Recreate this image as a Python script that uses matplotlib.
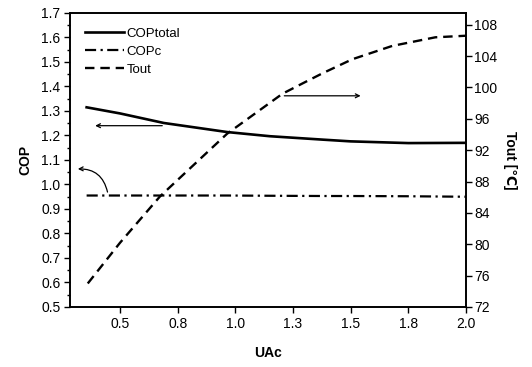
import matplotlib.pyplot as plt
from matplotlib.ticker import MultipleLocator

# datos
uac = [0.355, 0.5, 0.69, 0.965, 1.15, 1.38, 1.5, 1.75, 2.0]
cop_total = [1.315, 1.29, 1.251, 1.214, 1.197, 1.183, 1.176, 1.169, 1.17]
cop_c = [0.955, 0.955, 0.955, 0.955, 0.954, 0.953, 0.953, 0.952, 0.95]

uac_t = [0.36, 0.5, 0.673, 0.964, 1.204, 1.29, 1.377, 1.507, 1.68, 1.867, 2.0]
tout = [75.0, 80.2, 86.1, 94.1, 99.2, 100.5, 101.8, 103.6, 105.3, 106.4, 106.6]

xticks = [0.5, 0.75, 1.0, 1.25, 1.5, 1.75, 2.0]
xtick_labels = ["0.5", "0.8", "1.0", "1.3", "1.5", "1.8", "2.0"]

plt.rcParams['font.family'] = ['Liberation Sans', 'DejaVu Sans']
plt.rcParams['font.size'] = 10

fig = plt.figure(figsize=(5.32, 3.67), dpi=100)
ax = fig.add_axes([0.1316, 0.1635, 0.876 - 0.1316, 0.9646 - 0.1635])
ax2 = ax.twinx()

l1, = ax.plot(uac, cop_total, color='black', lw=1.9, label='COPtotal')
l2, = ax.plot(uac, cop_c, color='black', lw=1.6, dashes=(5, 2, 1, 2), label='COPc')
l3, = ax2.plot(uac_t, tout, color='black', lw=1.7, dashes=(4, 2.5), label='Tout')

ax.set_xlim(0.283, 2.0)
ax.set_ylim(0.5, 1.7)
ax2.set_ylim(72, 109.5)

ax.set_xticks(xticks)
ax.set_xticklabels(xtick_labels)
ax.yaxis.set_major_locator(MultipleLocator(0.1))
ax.yaxis.set_minor_locator(MultipleLocator(0.05))
ax.yaxis.set_major_formatter(plt.FormatStrFormatter('%.1f'))
ax2.yaxis.set_major_locator(MultipleLocator(4))

ax.tick_params(axis='both', direction='out', length=4, width=1, colors='black', pad=3)
ax.tick_params(axis='y', which='minor', direction='out', length=2.5, width=1)
ax2.tick_params(axis='y', direction='out', length=4, width=1, pad=2)

for a in (ax, ax2):
    for s in a.spines.values():
        s.set_linewidth(1.2)

ax.set_xlabel('UAc', fontweight='bold', fontsize=10, labelpad=11)
ax.set_ylabel('COP', fontweight='bold', fontsize=10, labelpad=6)
ax2.set_ylabel('Tout [℃]', fontweight='bold', fontsize=10, rotation=270, labelpad=14)

ax.legend(handles=[l1, l2, l3], loc='upper left', frameon=False,
          handlelength=3.0, handletextpad=0.2, labelspacing=0.45,
          borderaxespad=0.6, borderpad=0.5, fontsize=9.5)

# flechas
arr = dict(arrowstyle='->', color='black', lw=0.9, mutation_scale=7)
ax.annotate('', xy=(0.38, 1.24), xytext=(0.695, 1.24), arrowprops=arr)
ax.annotate('', xy=(1.555, 1.362), xytext=(1.20, 1.362), arrowprops=arr)
ax.annotate('', xy=(0.305, 1.063), xytext=(0.448, 0.958),
            arrowprops=dict(arr, connectionstyle='arc3,rad=0.45'))

fig.savefig('out.png', dpi=100)
